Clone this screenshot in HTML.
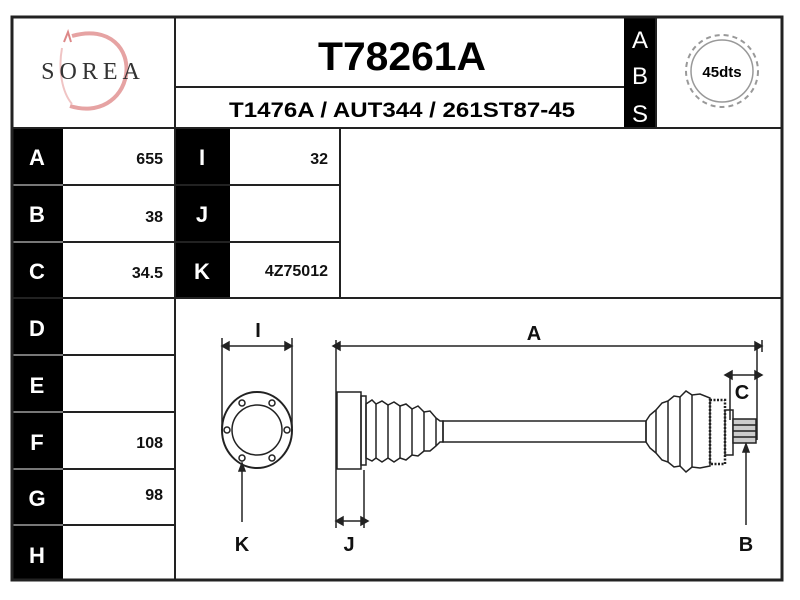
<!DOCTYPE html>
<html><head><meta charset="utf-8"><style>
html,body{margin:0;padding:0;background:#fff;width:800px;height:600px;overflow:hidden}
svg{display:block}
text{font-family:"Liberation Sans",Arial,sans-serif;font-weight:bold}
</style></head><body>
<svg width="800" height="600" viewBox="0 0 800 600">
<rect x="0" y="0" width="800" height="600" fill="#fff"/>
<rect x="12" y="128" width="51" height="452" fill="#000"/>
<rect x="175" y="128" width="55" height="170" fill="#000"/>
<rect x="624" y="17" width="32" height="111" fill="#000"/>
<g stroke="#777" stroke-width="2">
<line x1="12" y1="185" x2="63" y2="185"/><line x1="12" y1="242" x2="63" y2="242"/>
<line x1="12" y1="298" x2="63" y2="298"/><line x1="12" y1="355" x2="63" y2="355"/>
<line x1="12" y1="412" x2="63" y2="412"/><line x1="12" y1="469" x2="63" y2="469"/>
<line x1="12" y1="525" x2="63" y2="525"/>
<line x1="175" y1="185" x2="230" y2="185"/><line x1="175" y1="242" x2="230" y2="242"/>
</g>
<g stroke="#222" stroke-width="2" fill="none">
<rect x="12" y="17" width="770" height="563" stroke-width="3"/>
<line x1="12" y1="128" x2="782" y2="128"/>
<line x1="175" y1="17" x2="175" y2="580"/>
<line x1="175" y1="87" x2="624" y2="87"/>
<line x1="656" y1="17" x2="656" y2="128"/>
<line x1="340" y1="128" x2="340" y2="298"/>
<line x1="63" y1="185" x2="340" y2="185"/><line x1="63" y1="242" x2="340" y2="242"/>
<line x1="12" y1="298" x2="782" y2="298"/>
<line x1="63" y1="355" x2="175" y2="355"/><line x1="63" y1="412" x2="175" y2="412"/>
<line x1="63" y1="469" x2="175" y2="469"/><line x1="63" y1="525" x2="175" y2="525"/>
</g>
<path d="M72 36 C 110 25, 130 50, 126 75 C 122 100, 98 115, 70 106" fill="none" stroke="#e6a3a3" stroke-width="4"/>
<path d="M62 48 C 58 70, 62 92, 72 104" fill="none" stroke="#f0c4c4" stroke-width="2"/>
<path d="M64 42 l4 -10 l3 10" fill="none" stroke="#d88" stroke-width="2"/>
<text x="93" y="79" font-size="24" fill="#333" text-anchor="middle" letter-spacing="5" style="font-family:'Liberation Serif',serif;font-weight:normal">SOREA</text>
<text x="402" y="70" font-size="40" text-anchor="middle" fill="#000" textLength="168" lengthAdjust="spacingAndGlyphs">T78261A</text>
<text x="402" y="117" font-size="21" text-anchor="middle" fill="#000" textLength="346" lengthAdjust="spacingAndGlyphs">T1476A / AUT344 / 261ST87-45</text>
<text x="640" y="48" font-size="24" text-anchor="middle" fill="#fff" style="font-weight:normal">A</text>
<text x="640" y="84" font-size="24" text-anchor="middle" fill="#fff" style="font-weight:normal">B</text>
<text x="640" y="122" font-size="24" text-anchor="middle" fill="#fff" style="font-weight:normal">S</text>
<circle cx="722" cy="71" r="36" fill="none" stroke="#999" stroke-width="2" stroke-dasharray="5 4"/>
<circle cx="722" cy="71" r="31" fill="none" stroke="#999" stroke-width="1.5"/>
<text x="722" y="77" font-size="15" text-anchor="middle" fill="#000">45dts</text>
<g fill="#fff" font-size="22" text-anchor="middle">
<text x="37" y="165">A</text><text x="37" y="222">B</text><text x="37" y="279">C</text>
<text x="37" y="336">D</text><text x="37" y="393">E</text><text x="37" y="450">F</text>
<text x="37" y="506">G</text><text x="37" y="563">H</text>
<text x="202" y="165">I</text><text x="202" y="222">J</text><text x="202" y="279">K</text>
</g>
<g fill="#111" font-size="16" text-anchor="end">
<text x="163" y="164">655</text><text x="163" y="222">38</text><text x="163" y="278">34.5</text>
<text x="163" y="448">108</text><text x="163" y="500">98</text>
<text x="328" y="164">32</text><text x="328" y="276">4Z75012</text>
</g>
<g stroke="#222" stroke-width="1.5" fill="none">
<line x1="222" y1="346" x2="292" y2="346"/>
<line x1="222" y1="338" x2="222" y2="428"/><line x1="292" y1="338" x2="292" y2="428"/>
<path d="M222 346 l7 -4 v8z M292 346 l-7 -4 v8z" fill="#222"/>
<ellipse cx="257" cy="430" rx="35" ry="38" stroke-width="2"/>
<ellipse cx="257" cy="430" rx="25" ry="25"/>
<circle cx="242" cy="403" r="3"/><circle cx="272" cy="403" r="3"/>
<circle cx="227" cy="430" r="3"/><circle cx="287" cy="430" r="3"/>
<circle cx="242" cy="458" r="3"/><circle cx="272" cy="458" r="3"/>
<line x1="242" y1="522" x2="242" y2="465"/><path d="M242 463 l-3 8 h6z" fill="#222"/>
<line x1="333" y1="346" x2="762" y2="346"/>
<path d="M333 346 l7 -4 v8z M762 346 l-7 -4 v8z" fill="#222"/>
<line x1="336" y1="340" x2="336" y2="528"/>
<line x1="762" y1="340" x2="762" y2="352"/>
<line x1="757" y1="346" x2="757" y2="440"/>
<line x1="336" y1="521" x2="368" y2="521"/>
<line x1="364" y1="470" x2="364" y2="528"/>
<path d="M336 521 l7 -4 v8z M368 521 l-7 -4 v8z" fill="#222"/>
<rect x="337" y="392" width="24" height="77"/>
<rect x="361" y="396" width="5" height="69"/>
<path d="M366 404 L372 400 L376 404 L382 401 L388 405 L394 402 L400 406 L406 404 L412 409 L418 406 L424 412 L430 411 L436 418 L440 421 L443 421 L443 442 L440 442 L436 446 L430 451 L424 451 L418 456 L412 455 L406 460 L400 458 L394 462 L388 458 L382 462 L376 458 L372 461 L366 458z"/>
<line x1="376" y1="404" x2="376" y2="458"/><line x1="388" y1="405" x2="388" y2="458"/>
<line x1="400" y1="406" x2="400" y2="458"/><line x1="412" y1="409" x2="412" y2="455"/>
<line x1="424" y1="412" x2="424" y2="451"/><line x1="436" y1="418" x2="436" y2="446"/>
<rect x="443" y="421" width="203" height="21"/>
<path d="M646 421 L650 415 L656 410 L662 403 L668 401 L674 396 L680 397 L686 391 L692 395 L700 394 L710 398 L710 466 L700 468 L692 467 L686 472 L680 466 L674 467 L668 462 L662 460 L656 453 L650 448 L646 442z"/>
<line x1="656" y1="410" x2="656" y2="453"/><line x1="668" y1="401" x2="668" y2="462"/>
<line x1="680" y1="397" x2="680" y2="466"/><line x1="692" y1="395" x2="692" y2="467"/>
<rect x="710" y="400" width="15" height="64" stroke-width="2.5" stroke-dasharray="2 1.5"/>
<rect x="725" y="410" width="8" height="45"/>
<rect x="733" y="419" width="23" height="24" fill="#ccc"/>
<line x1="733" y1="425" x2="756" y2="425"/><line x1="733" y1="431" x2="756" y2="431"/><line x1="733" y1="437" x2="756" y2="437"/>
<line x1="725" y1="375" x2="762" y2="375"/>
<path d="M725 375 l7 -4 v8z M762 375 l-7 -4 v8z" fill="#222"/>
<line x1="730" y1="375" x2="730" y2="420"/>
<line x1="746" y1="525" x2="746" y2="446"/><path d="M746 444 l-3 8 h6z" fill="#222"/>
</g>
<g fill="#111" font-size="20" text-anchor="middle">
<text x="258" y="337">I</text>
<text x="534" y="340">A</text>
<text x="742" y="399">C</text>
<text x="242" y="551">K</text>
<text x="349" y="551">J</text>
<text x="746" y="551">B</text>
</g>
</svg>
</body></html>
